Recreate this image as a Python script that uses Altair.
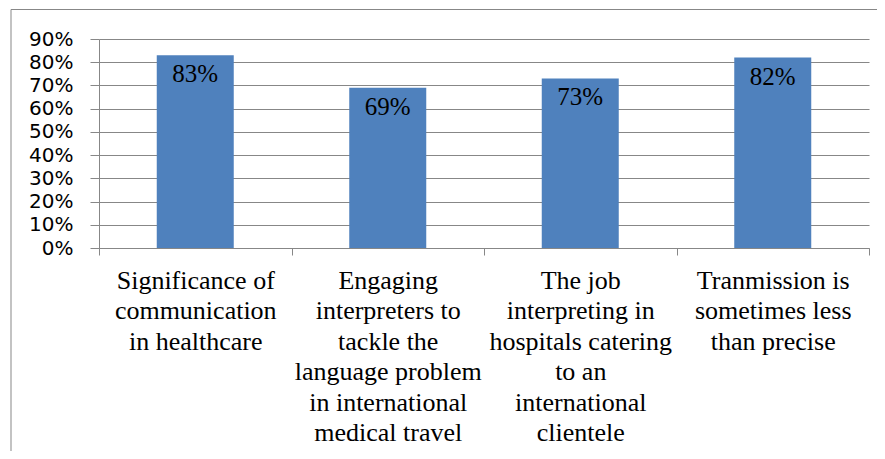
import altair as alt
import pandas as pd

categories = [
    "Significance of|communication|in healthcare",
    "Engaging|interpreters to|tackle the|language problem|in international|medical travel",
    "The job|interpreting in|hospitals catering|to an|international|clientele",
    "Tranmission is|sometimes less|than precise",
]
values = [0.83, 0.69, 0.73, 0.82]
value_labels = ["83%", "69%", "73%", "82%"]
y_ticks = [0.0, 0.1, 0.2, 0.3, 0.4, 0.5, 0.6, 0.7, 0.8, 0.9]

df = pd.DataFrame({"category": categories, "value": values, "label": value_labels})

GRAY = "#878787"
SERIF = "Liberation Serif"

x = alt.X(
    "category:N",
    sort=None,
    title=None,
    scale=alt.Scale(paddingInner=0, paddingOuter=0),
    axis=alt.Axis(
        labelExpr="split(datum.label, '|')",
        labelAngle=0,
        labelFont=SERIF,
        labelFontSize=26,
        labelLineHeight=30.5,
        labelColor="black",
        labelAlign="center",
        labelBaseline="top",
        labelPadding=12,
        labelLimit=400,
        tickBand="extent",
        tickSize=7,
        tickColor=GRAY,
        domainColor=GRAY,
        grid=False,
    ),
)
y = alt.Y(
    "value:Q",
    title=None,
    scale=alt.Scale(domain=[0, 0.9], nice=False),
    axis=alt.Axis(
        values=y_ticks,
        format=".0%",
        labelFont="DejaVu Sans",
        labelFontSize=20,
        labelColor="black",
        labelPadding=17,
        labelOverlap=False,
        tickSize=9,
        tickColor=GRAY,
        gridColor=GRAY,
        gridOpacity=1,
        domainColor=GRAY,
    ),
)

base = alt.Chart(df)
bars = base.mark_bar(width=alt.RelativeBandSize(0.4), color="#4F81BD").encode(x=x, y=y)
texts = base.mark_text(
    baseline="top", dy=7, font=SERIF, fontSize=25, color="black"
).encode(x=x, y=y, text="label:N")

one = alt.Chart(pd.DataFrame({"a": [0]}))
left_border = one.mark_rule(color=GRAY, strokeWidth=1).encode(
    x=alt.value(-88), y=alt.value(-29.5), y2=alt.value(412)
)
top_border = one.mark_rule(color=GRAY, strokeWidth=1).encode(
    x=alt.value(-88), x2=alt.value(778), y=alt.value(-29.5)
)

chart = (
    alt.layer(bars, texts, left_border, top_border)
    .properties(
        width=770,
        height=209,
        padding={"left": 91, "top": 31, "right": 8, "bottom": 203},
        autosize=alt.AutoSizeParams(type="none"),
    )
    .configure_view(stroke=None)
)

chart.save("out.html", embed_options={"renderer": "svg", "actions": False})
